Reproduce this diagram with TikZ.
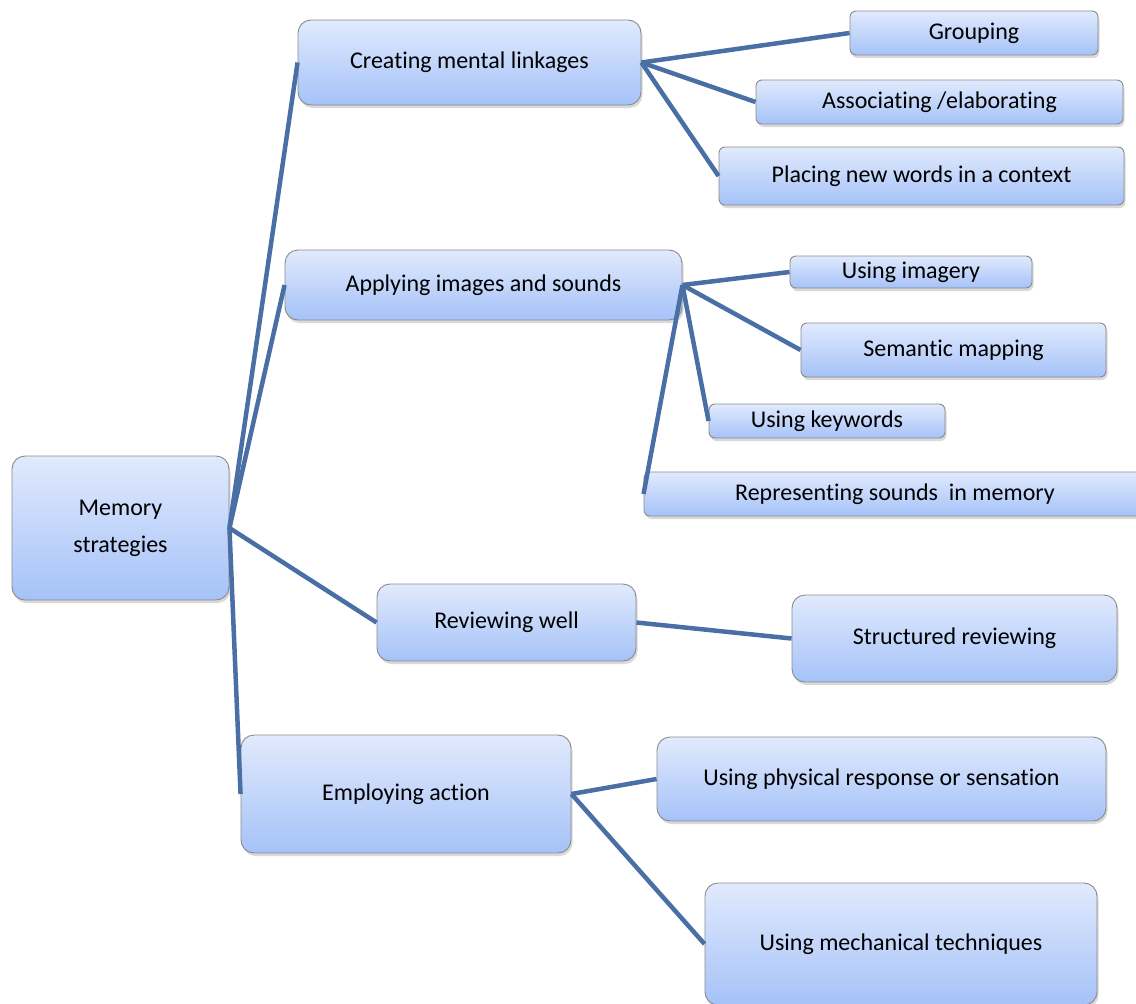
\documentclass[tikz,border=0pt]{standalone}
\usepackage{fontspec}
\setmainfont[Ligatures={NoCommon}]{Carlito}
\usetikzlibrary{positioning,shadows}
\definecolor{linkblue}{HTML}{4A6FA5}
\definecolor{boxtop}{HTML}{E1EAFD}
\definecolor{boxbot}{HTML}{A5C2F8}
\definecolor{boxline}{HTML}{8A8A8A}

\begin{document}
\begin{tikzpicture}[x=1pt,y=-1pt,
    box/.style={draw=boxline, line width=0.9pt, rounded corners=6pt,
      top color=boxtop, bottom color=boxbot,
      drop shadow={shadow xshift=1.5pt, shadow yshift=-3pt, opacity=0.3},
      align=center, inner sep=0pt, font=\fontsize{24}{37}\selectfont},
    bigbox/.style={box, rounded corners=13pt},
    link/.style={draw=linkblue, line width=4.5pt}]
  \useasboundingbox (0,0) rectangle (1136,1004);

  % root and main branches
  \node[bigbox, minimum width=217, minimum height=144] (memory) at (120.5,528) {Memory\\strategies};
  \node[bigbox, minimum width=343, minimum height=85] (creating) at (469.5,62.5) {Creating mental linkages};
  \node[bigbox, minimum width=397, minimum height=70] (applying) at (483.5,285) {Applying images and sounds};
  \node[bigbox, minimum width=259, minimum height=77] (reviewing) at (506.5,622.5) {Reviewing well};
  \node[bigbox, minimum width=330, minimum height=118] (employing) at (406,794) {Employing action};

  % leaves
  \node[box, minimum width=248, minimum height=44] (grouping) at (974,33) {Grouping};
  \node[box, minimum width=367, minimum height=44] (associating) at (939.5,102) {Associating /elaborating};
  \node[box, minimum width=405, minimum height=58] (placing) at (921.5,176) {Placing new words in a context};
  \node[box, minimum width=242, minimum height=32] (imagery) at (911,272) {Using imagery};
  \node[box, minimum width=305, minimum height=54] (semantic) at (953.5,350) {Semantic mapping};
  \node[box, minimum width=236, minimum height=34] (keywords) at (827,421) {Using keywords};
  \node[box, minimum width=502, minimum height=44] (sounds) at (895,494) {Representing sounds~ in memory};
  \node[bigbox, minimum width=325, minimum height=87] (structured) at (954.5,638.5) {Structured reviewing};
  \node[bigbox, minimum width=449, minimum height=84] (physical) at (881.5,779) {Using physical response or sensation};
  \node[bigbox, minimum width=392, minimum height=122] (mechanical) at (901,944) {Using mechanical techniques};

  % connectors
  \draw[link] (memory.east) -- (creating.west);
  \draw[link] (memory.east) -- (applying.west);
  \draw[link] (memory.east) -- (reviewing.west);
  \draw[link] (memory.east) -- (employing.west);
  \draw[link] (creating.east) -- (grouping.west);
  \draw[link] (creating.east) -- (associating.west);
  \draw[link] (creating.east) -- (placing.west);
  \draw[link] (applying.east) -- (imagery.west);
  \draw[link] (applying.east) -- (semantic.west);
  \draw[link] (applying.east) -- (keywords.west);
  \draw[link] (applying.east) -- (sounds.west);
  \draw[link] (reviewing.east) -- (structured.west);
  \draw[link] (employing.east) -- (physical.west);
  \draw[link] (employing.east) -- (mechanical.west);
\end{tikzpicture}
\end{document}
